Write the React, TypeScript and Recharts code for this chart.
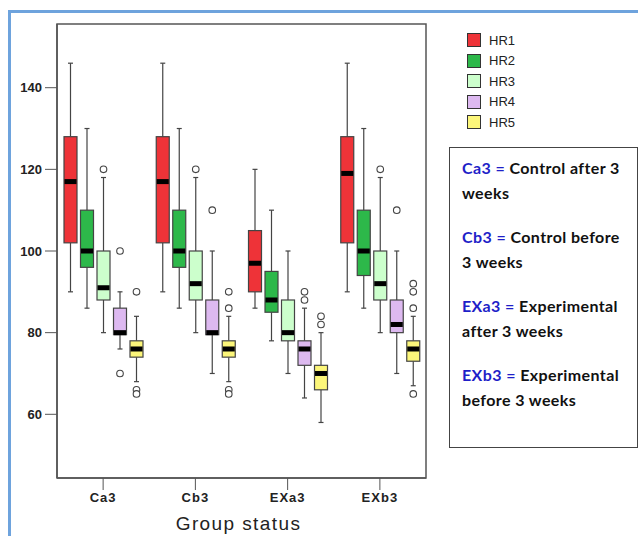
import { BarChart, Bar, XAxis, YAxis, Legend, ReferenceArea } from "recharts";

// group categories on the x axis
const groups = ["Ca3", "Cb3", "EXa3", "EXb3"];
const yTicks = [60, 80, 100, 120, 140];

// box statistics per heart-rate series, one value per group
const hr1Low = [90, 90, 86, 90];
const hr1Q1 = [102, 102, 90, 102];
const hr1Med = [117, 117, 97, 119];
const hr1Q3 = [128, 128, 105, 128];
const hr1High = [146, 146, 120, 146];
const hr1Out: number[][] = [[], [], [], []];

const hr2Low = [86, 86, 78, 86];
const hr2Q1 = [96, 96, 85, 94];
const hr2Med = [100, 100, 88, 100];
const hr2Q3 = [110, 110, 95, 110];
const hr2High = [130, 130, 110, 130];
const hr2Out: number[][] = [[], [], [], []];

const hr3Low = [80, 80, 70, 80];
const hr3Q1 = [88, 88, 78, 88];
const hr3Med = [91, 92, 80, 92];
const hr3Q3 = [100, 100, 88, 100];
const hr3High = [118, 118, 100, 118];
const hr3Out = [[120], [120], [], [120]];

const hr4Low = [76, 70, 64, 70];
const hr4Q1 = [79.5, 79.5, 72, 80];
const hr4Med = [80, 80, 76, 82];
const hr4Q3 = [86, 88, 78, 88];
const hr4High = [90, 100, 86, 100];
const hr4Out = [[100, 70], [110], [90, 88], [110]];

const hr5Low = [68, 68, 58, 67];
const hr5Q1 = [74, 74, 66, 73];
const hr5Med = [76, 76, 70, 76];
const hr5Q3 = [78, 78, 72, 78];
const hr5High = [84, 84, 80, 84];
const hr5Out = [[90, 66, 65], [90, 86, 66, 65], [84, 82], [92, 90, 86, 65]];

const series = [
  { key: "hr1", name: "HR1", color: "#ee3338", low: hr1Low, q1: hr1Q1, med: hr1Med, q3: hr1Q3, high: hr1High, out: hr1Out },
  { key: "hr2", name: "HR2", color: "#2db84a", low: hr2Low, q1: hr2Q1, med: hr2Med, q3: hr2Q3, high: hr2High, out: hr2Out },
  { key: "hr3", name: "HR3", color: "#ccffcc", low: hr3Low, q1: hr3Q1, med: hr3Med, q3: hr3Q3, high: hr3High, out: hr3Out },
  { key: "hr4", name: "HR4", color: "#ddb9f0", low: hr4Low, q1: hr4Q1, med: hr4Med, q3: hr4Q3, high: hr4High, out: hr4Out },
  { key: "hr5", name: "HR5", color: "#fcf67a", low: hr5Low, q1: hr5Q1, med: hr5Med, q3: hr5Q3, high: hr5High, out: hr5Out },
];

const notes = [
  ["Ca3 =", "Control after 3", "weeks"],
  ["Cb3 =", "Control before", "3 weeks"],
  ["EXa3 =", "Experimental", "after 3 weeks"],
  ["EXb3 =", "Experimental", "before 3 weeks"],
];

const Y_DOMAIN: [number, number] = [44.4, 155.6];

// range bar [low, high] per series, stats kept alongside for the shape
const data = groups.map((g, i) => {
  const row: any = { group: g };
  series.forEach((s) => {
    row[s.key] = [s.low[i], s.high[i]];
    row[s.key + "Stats"] = { low: s.low[i], q1: s.q1[i], med: s.med[i], q3: s.q3[i], high: s.high[i], out: s.out[i] };
  });
  return row;
});

const EDGE = "#444";

function makeBox(key: string, fill: string) {
  return (props: any) => {
    const { x, y, width, height, payload } = props;
    const st = payload[key + "Stats"];
    const top = Math.min(y, y + height);
    const h = Math.abs(height);
    // linear map from the bar's own scaled range
    const py = (v: number) => top + h - ((v - st.low) * h) / (st.high - st.low);
    const cx = x + width / 2;
    return (
      <g>
        <line x1={cx} x2={cx} y1={py(st.high)} y2={py(st.q3)} stroke={EDGE} strokeWidth={1.2} />
        <line x1={cx} x2={cx} y1={py(st.q1)} y2={py(st.low)} stroke={EDGE} strokeWidth={1.2} />
        <line x1={cx - 2.5} x2={cx + 2.5} y1={py(st.high)} y2={py(st.high)} stroke={EDGE} strokeWidth={1.2} />
        <line x1={cx - 2.5} x2={cx + 2.5} y1={py(st.low)} y2={py(st.low)} stroke={EDGE} strokeWidth={1.2} />
        <rect x={x} y={py(st.q3)} width={width} height={py(st.q1) - py(st.q3)} fill={fill} stroke={EDGE} strokeWidth={1.2} />
        <rect x={x + 0.5} y={py(st.med) - 2.5} width={width - 1} height={5} fill="#000" />
        {st.out.map((v: number, i: number) => (
          <circle key={i} cx={cx} cy={py(v)} r={3.3} fill="#fff" stroke={EDGE} strokeWidth={1.1} />
        ))}
      </g>
    );
  };
}

const LegendBox = ({ payload }: any) => (
  <div style={{ fontFamily: "'Liberation Sans', Arial, sans-serif", fontSize: 13, color: "#222" }}>
    {(payload || []).map((e: any) => (
      <div key={e.value} style={{ display: "flex", alignItems: "center", height: 20.5 }}>
        <span style={{ width: 12, height: 12, background: e.color, border: "1px solid #333", marginRight: 8 }} />
        {e.value}
      </div>
    ))}
  </div>
);

export default function App() {
  const tickStyle = { fontFamily: "'Liberation Sans', Arial, sans-serif", fontSize: 13, fontWeight: 700, fill: "#222" };
  return (
    <div style={{ position: "absolute", left: 0, top: 0, width: 638, height: 536, background: "#fff", overflow: "hidden" }}>
      <div style={{ position: "absolute", left: 8, top: 10, right: 0, bottom: 0, borderLeft: "3px solid #6ea3dd", borderTop: "3px solid #6ea3dd" }} />
      <BarChart
        width={638}
        height={536}
        data={data}
        margin={{ top: 24, right: 212, bottom: 0, left: 10 }}
        barSize={13}
        barGap={3.5}
        style={{ position: "absolute", left: 0, top: 0 }}
      >
        <ReferenceArea x1="Ca3" x2="EXb3" y1={Y_DOMAIN[0]} y2={Y_DOMAIN[1]} fill="none" stroke="#555" strokeWidth={1.5} ifOverflow="visible" />
        <XAxis
          dataKey="group"
          height={58}
          tick={{ ...tickStyle, letterSpacing: 1 }}
          tickSize={12}
          tickMargin={3}
          stroke="#555"
          axisLine={{ stroke: "#555", strokeWidth: 1.5 }}
          label={{
            value: "Group status",
            position: "insideBottom",
            offset: 6,
            dx: -3,
            style: { fontFamily: "'Liberation Sans', Arial, sans-serif", fontSize: 19, letterSpacing: 1.4, fill: "#222" },
          }}
        />
        <YAxis
          domain={Y_DOMAIN}
          ticks={yTicks}
          width={47}
          tick={tickStyle}
          tickSize={12}
          tickMargin={3}
          stroke="#555"
          axisLine={{ stroke: "#555", strokeWidth: 1.5 }}
        />
        <Legend
          layout="vertical"
          align="center"
          verticalAlign="middle"
          content={<LegendBox />}
          wrapperStyle={{ left: 467, top: 30, width: 100, height: 110 }}
        />
        {series.map((s) => (
          <Bar key={s.key} dataKey={s.key} name={s.name} fill={s.color} isAnimationActive={false} shape={makeBox(s.key, s.color)} />
        ))}
      </BarChart>
      <div
        style={{
          position: "absolute",
          left: 449,
          top: 147,
          width: 189,
          height: 301,
          boxSizing: "border-box",
          border: "1.5px solid #444",
          padding: "7px 0 0 12px",
          fontFamily: "Lato, 'Open Sans', sans-serif",
          fontWeight: 700,
          fontSize: 16,
          letterSpacing: 0.4,
          lineHeight: "25px",
          color: "#111",
          background: "#fff",
        }}
      >
        {notes.map((n) => (
          <div key={n[0]} style={{ marginBottom: 19 }}>
            <div>
              <span style={{ color: "#1f1fc8" }}>{n[0]}</span> {n[1]}
            </div>
            <div>{n[2]}</div>
          </div>
        ))}
      </div>
    </div>
  );
}
